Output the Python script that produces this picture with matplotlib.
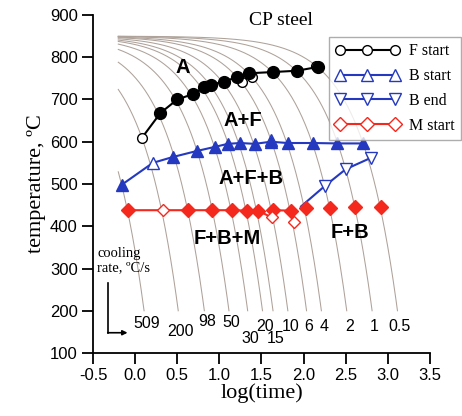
import numpy as np
import matplotlib.pyplot as plt
from matplotlib.lines import Line2D

# cooling curves (rate in °C/s), linear cooling from 850 °C
cooling_rates = [509, 200, 98, 50, 30, 20, 15, 10, 6, 4, 2, 1, 0.5]
rate_labels = ['509', '200', '98', '50', '30', '20', '15', '10', '6', '4', '2', '1', '0.5']
rate_label_T = [169, 150, 175, 173, 135, 162, 135, 162, 162, 162, 162, 162, 162]
T_start = 850
T_end = 200

# F start
f_open_x = [0.08, 1.27, 1.39, 1.92, 2.15]
f_open_T = [609, 742, 753, 769, 779]
f_fill_x = [0.30, 0.50, 0.69, 0.82, 0.90, 1.05, 1.21, 1.35, 1.64, 1.92, 2.17]
f_fill_T = [668, 700, 713, 729, 735, 742, 753, 762, 765, 768, 777]

# B start
bs_open_x = [0.21, 1.61]
bs_open_T = [550, 603]
bs_fill_x = [-0.16, 0.45, 0.73, 0.95, 1.10, 1.245, 1.42, 1.61, 1.81, 2.11, 2.40, 2.70]
bs_fill_T = [498, 564, 578, 588, 595, 597, 595, 600, 597, 597, 596, 596]

# B end
be_x = [1.97, 2.25, 2.50, 2.80]
be_T = [447, 495, 535, 562]

# M start
ms_open_x = [0.33, 1.62, 1.88]
ms_open_T = [438, 421, 410]
ms_fill_x = [-0.085, 0.63, 0.91, 1.15, 1.33, 1.46, 1.64, 1.85, 2.03, 2.31, 2.61, 2.92]
ms_fill_T = [438, 438, 438, 438, 437, 437, 438, 437, 443, 444, 445, 445]

BLUE = '#2438c0'
RED = '#f5281e'
SANS = 'Liberation Sans'
SERIF = 'Liberation Serif'

fig = plt.figure(figsize=(4.62, 4.16), dpi=100)
ax = fig.add_axes([0.2013, 0.1514, 0.7294, 0.8126])

# cooling curves
for r, lab, ty in zip(cooling_rates, rate_labels, rate_label_T):
    xs = np.linspace(-0.2, np.log10((T_start - T_end) / r), 200)
    Ts = T_start - r * 10 ** xs
    ax.plot(xs, Ts, color='#aea29a', lw=0.75, zorder=1)
    ax.text(xs[-1] + 0.03, ty, lab, fontsize=11.5, family=SANS,
            ha='center', va='center')

# F start
fx = [f_open_x[0]] + f_fill_x
fT = [f_open_T[0]] + f_fill_T
ax.plot(fx, fT, color='black', lw=1.5, zorder=3)
ax.plot(f_fill_x, f_fill_T, 'o', color='black', ms=8.5, zorder=4)
ax.plot(f_open_x, f_open_T, 'o', mfc='white', mec='black', mew=1.0, ms=7, zorder=3.5)

# B start
order = np.argsort(bs_fill_x + [bs_open_x[0]])
bx = np.array(bs_fill_x + [bs_open_x[0]])[order]
bT = np.array(bs_fill_T + [bs_open_T[0]])[order]
ax.plot(bx, bT, color=BLUE, lw=1.5, zorder=3)
ax.plot(bs_fill_x, bs_fill_T, '^', color=BLUE, ms=8.5, zorder=4)
ax.plot(bs_open_x, bs_open_T, '^', mfc='white', mec=BLUE, mew=1.0, ms=8, zorder=3.5)

# B end
ax.plot(be_x, be_T, color=BLUE, lw=1.5, zorder=3)
ax.plot(be_x[1:], be_T[1:], 'v', mfc='white', mec=BLUE, mew=1.0, ms=8, zorder=4)

# M start
mx = np.array(ms_fill_x[:8] + ms_open_x)
mT = np.array(ms_fill_T[:8] + ms_open_T)
o = np.argsort(mx)
ax.plot(mx[o], mT[o], color=RED, lw=1.5, zorder=3)
ax.plot(ms_fill_x, ms_fill_T, 'D', color=RED, ms=7.5, zorder=4)
ax.plot(ms_open_x, ms_open_T, 'D', mfc='white', mec=RED, mew=1.0, ms=6.5, zorder=4.5)

# phase regions
for txt, x, y in [('A', 0.57, 775), ('A+F', 1.28, 651), ('A+F+B', 1.375, 512),
                  ('F+B+M', 1.09, 370), ('F+B', 2.55, 386)]:
    ax.text(x, y, txt, fontsize=14.5, fontweight='bold', family=SANS,
            ha='center', va='center', zorder=5)

ax.text(1.73, 886, 'CP steel', fontsize=14, family=SERIF, ha='center', va='center')

# cooling rate note with arrow
ax.text(-0.45, 350, 'cooling\nrate, ºC/s', fontsize=10.5, family=SERIF,
        ha='left', va='top', linespacing=1.1)
ax.plot([-0.32, -0.32], [266, 148], color='black', lw=1.2)
ax.annotate('', xy=(-0.09, 148), xytext=(-0.325, 148),
            arrowprops=dict(arrowstyle='-|>', color='black', lw=1.2,
                            mutation_scale=7, shrinkA=0, shrinkB=0))

ax.set_xlim(-0.5, 3.5)
ax.set_ylim(100, 900)
ax.set_xticks(np.arange(-0.5, 3.51, 0.5))
ax.set_xticklabels([f'{v:.1f}' for v in np.arange(-0.5, 3.51, 0.5)])
ax.set_yticks(np.arange(100, 901, 100))
for s in ['top', 'right']:
    ax.spines[s].set_visible(False)
for s in ['left', 'bottom']:
    ax.spines[s].set_linewidth(1.3)
ax.tick_params(direction='out', length=8, width=1.3, labelsize=12, pad=3)
for lbl in ax.get_xticklabels() + ax.get_yticklabels():
    lbl.set_family(SANS)

ax.set_xlabel('log(time)', fontsize=16, family=SERIF, labelpad=0)
ax.set_ylabel('temperature, ºC', fontsize=16, family=SERIF, labelpad=3)

handles = [
    Line2D([], [], color='black', lw=1.5, marker='o', mfc='white', mec='black', ms=7),
    Line2D([], [], color=BLUE, lw=1.5, marker='^', mfc='white', mec=BLUE, ms=8),
    Line2D([], [], color=BLUE, lw=1.5, marker='v', mfc='white', mec=BLUE, ms=8),
    Line2D([], [], color=RED, lw=1.5, marker='D', mfc='white', mec=RED, ms=7),
]
leg = fig.legend(handles, ['F start', 'B start', 'B end', 'M start'],
                 loc='upper right', bbox_to_anchor=(461 / 462, 1 - 37 / 416),
                 numpoints=3, handlelength=4.0, handletextpad=0.6,
                 prop={'family': SERIF, 'size': 11.5}, fancybox=False,
                 edgecolor='#999999', borderpad=0.4, labelspacing=0.55,
                 borderaxespad=0)
leg.get_frame().set_linewidth(1.0)

fig.savefig('out.png', dpi=100)
